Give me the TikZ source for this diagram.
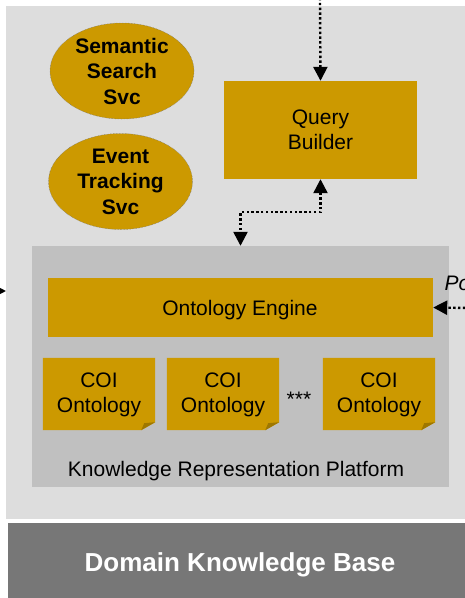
\documentclass[tikz,border=0pt]{standalone}
\usepackage{fontspec}
\setmainfont{Liberation Sans}
\usetikzlibrary{shapes.geometric,arrows.meta,calc}
\definecolor{gold}{HTML}{CC9900}
\definecolor{golddark}{HTML}{9E7700}
\definecolor{panel}{HTML}{DDDDDD}
\definecolor{krpgray}{HTML}{C0C0C0}
\definecolor{barGray}{HTML}{777777}
\tikzset{
  goldbox/.style={rectangle, fill=gold, inner sep=0pt, align=center, font=\fontsize{21}{25}\selectfont},
  coibox/.style={rectangle, inner sep=0pt, align=center, minimum width=112pt, minimum height=72pt, font=\fontsize{21}{25}\selectfont},
  plaintext/.style={font=\fontsize{21}{25.5}\selectfont, align=center, inner sep=0pt},
  svc/.style={ellipse, fill=gold, draw=black!55, line width=0.5pt, densely dotted, minimum width=144pt, minimum height=96pt, inner sep=0pt, align=center, font=\fontsize{21}{25.5}\selectfont\bfseries},
  dotarrow/.style={line width=2.4pt, dash pattern=on 2.4pt off 2.4pt, -{Triangle[width=14pt,length=14pt]}},
  dotarrowboth/.style={line width=2.4pt, dash pattern=on 2.4pt off 2.4pt, {Triangle[width=14pt,length=14pt]}-{Triangle[width=14pt,length=14pt]}},
}
\newcommand{\coishape}[1]{%
  \fill[gold] (#1.north west) -- (#1.north east) -- ([yshift=8pt]#1.south east) -- ([xshift=-14pt]#1.south east) -- (#1.south west) -- cycle;
  \fill[golddark] ([xshift=-14pt]#1.south east) -- ([yshift=8pt]#1.south east) -- ([xshift=-11pt,yshift=7pt]#1.south east) -- cycle;
}
\begin{document}
\begin{tikzpicture}[x=1pt,y=-1pt]
\useasboundingbox (0,0) rectangle (465,598);
% panels
\node[rectangle, fill=panel, minimum width=470pt, minimum height=513pt, inner sep=0pt, anchor=north west] (panel) at (6,6) {};
\node[rectangle, fill=barGray, minimum width=462pt, minimum height=80pt, inner sep=0pt, anchor=north west] (bar) at (8,523) {};
\node[text=white, font=\fontsize{26}{30}\selectfont\bfseries] (dkb) at (240,565) {Domain Knowledge Base};
% KRP
\node[rectangle, fill=krpgray, minimum width=417pt, minimum height=241pt, inner sep=0pt] (krp) at (240.5,366.5) {};
\node[font=\fontsize{21}{25}\selectfont, anchor=base] (krplabel) at (236,476) {Knowledge Representation Platform};
\node[goldbox, minimum width=385pt, minimum height=59pt] (oe) at (240.5,307.5) {};
\node[plaintext] (oetext) at (240,310) {Ontology Engine};
% COI
\node[coibox] (c1) at (99,394) {};
\node[coibox] (c2) at (223,394) {};
\node[coibox] (c3) at (379,394) {};
\coishape{c1}\coishape{c2}\coishape{c3}
\node[plaintext] (t1) at (99,395) {COI\\Ontology};
\node[plaintext] (t2) at (223,395) {COI\\Ontology};
\node[plaintext] (t3) at (379,395) {COI\\Ontology};
\node[font=\fontsize{21}{25}\selectfont, anchor=base] (dots) at (299,406) {***};
% Query builder
\node[goldbox, minimum width=193pt, minimum height=98pt] (qb) at (320.5,130) {Query\\Builder};
% services
\node[svc] (sss) at (122,71) {Semantic\\Search\\Svc};
\node[svc] (ets) at (120.5,181.5) {Event\\Tracking\\Svc};
% connectors
\coordinate (topin) at (320,-2);
\draw[dotarrow] (topin) -- (qb.north);
\draw[dotarrowboth] (qb.south) -- ++(0,33) -| (krp.north);
\coordinate (rightin) at (470,308);
\draw[dotarrow] (rightin) -- (oe.east);
\node[font=\fontsize{21}{25}\selectfont\itshape, anchor=base west] (po) at (441,290) {Po};
\coordinate (leftin) at (-20,291);
\draw[dotarrow] (leftin) -- (panel.west |- leftin);
\end{tikzpicture}
\end{document}
